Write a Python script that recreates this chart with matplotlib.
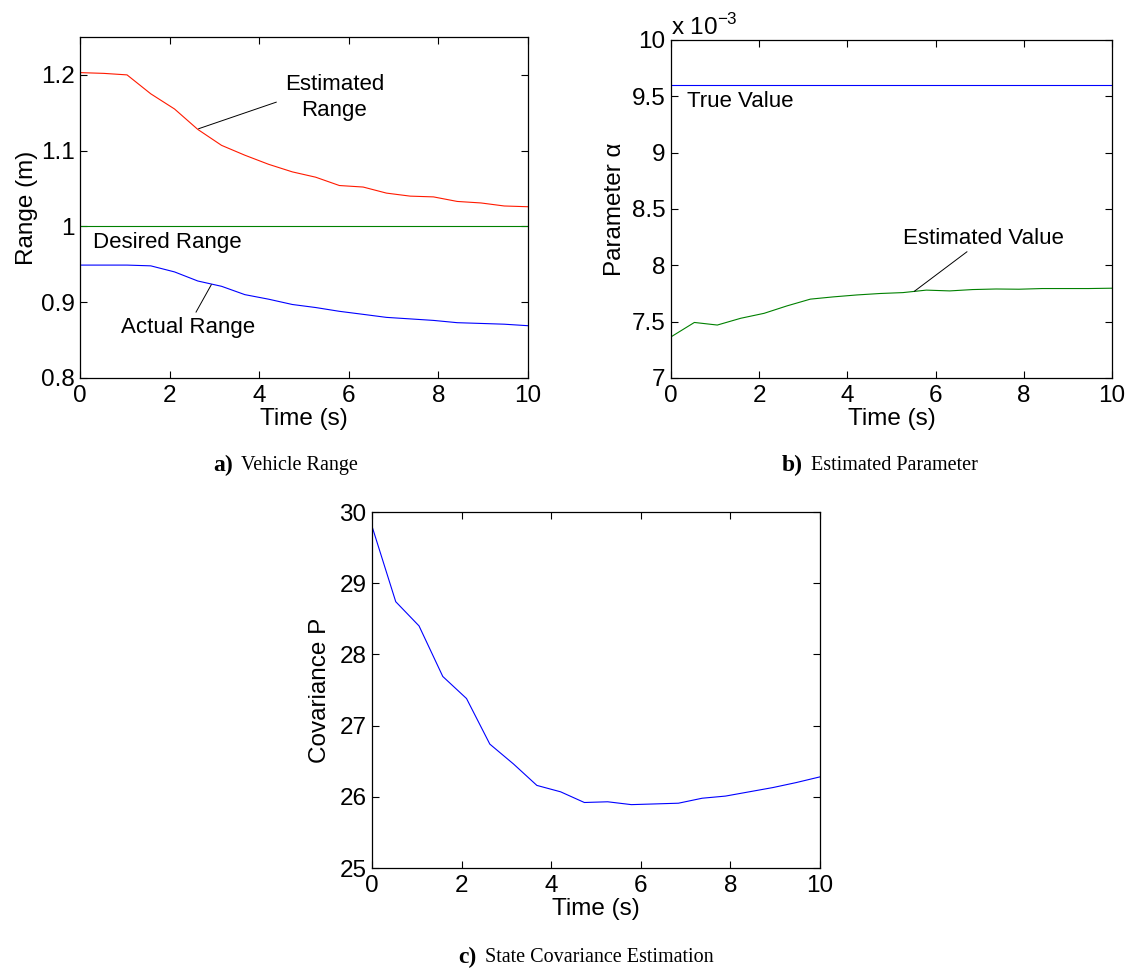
import matplotlib
matplotlib.use("Agg")
import matplotlib.pyplot as plt
from matplotlib.ticker import FuncFormatter

# ---------------- data ----------------
time_s = [0, 0.53, 1.05, 1.58, 2.11, 2.63, 3.16, 3.68, 4.21, 4.74,
          5.26, 5.79, 6.32, 6.84, 7.37, 7.89, 8.42, 8.95, 9.47, 10]

estimated_range = [1.203, 1.202, 1.200, 1.175, 1.155, 1.128, 1.107, 1.094, 1.082, 1.072,
                   1.065, 1.054, 1.052, 1.044, 1.040, 1.039, 1.033, 1.031, 1.027, 1.026]
actual_range = [0.949, 0.949, 0.949, 0.948, 0.940, 0.928, 0.921, 0.910, 0.904, 0.897,
                0.893, 0.888, 0.884, 0.880, 0.878, 0.876, 0.873, 0.872, 0.871, 0.869]
desired_range = 1.0

true_alpha = 9.6e-3
estimated_alpha = [7.365e-3, 7.493e-3, 7.470e-3, 7.530e-3, 7.574e-3, 7.640e-3, 7.700e-3,
                   7.720e-3, 7.737e-3, 7.750e-3, 7.758e-3, 7.780e-3, 7.773e-3, 7.785e-3,
                   7.790e-3, 7.788e-3, 7.794e-3, 7.794e-3, 7.794e-3, 7.797e-3]

covariance_p = [29.80, 28.74, 28.40, 27.69, 27.38, 26.74, 26.46, 26.16, 26.07, 25.92,
                25.93, 25.89, 25.90, 25.91, 25.98, 26.01, 26.07, 26.13, 26.20, 26.28]

x_ticks = [0, 2, 4, 6, 8, 10]
range_ticks = [0.8, 0.9, 1.0, 1.1, 1.2]
alpha_ticks = [7e-3, 7.5e-3, 8e-3, 8.5e-3, 9e-3, 9.5e-3, 10e-3]
cov_ticks = [25, 26, 27, 28, 29, 30]

captions = [("a)", "Vehicle Range"), ("b)", "Estimated Parameter"),
            ("c)", "State Covariance Estimation")]

# ---------------- style ----------------
SANS = ["Liberation Sans", "DejaVu Sans"]
SERIF = ["Liberation Serif", "DejaVu Serif"]
plt.rcParams["font.family"] = SANS
plt.rcParams["mathtext.fontset"] = "custom"
plt.rcParams["mathtext.rm"] = "Liberation Sans"
FS = 17.5
AFS = 16
W, H = 1130, 971

fig = plt.figure(figsize=(W / 100, H / 100), dpi=100)


def box(px_l, px_r, px_t, px_b):
    return [px_l / W, 1 - px_b / H, (px_r - px_l) / W, (px_b - px_t) / H]


def style(ax):
    ax.tick_params(direction="in", top=True, right=True, length=5, width=0.8,
                   labelsize=FS)
    ax.tick_params(axis="x", pad=5)
    ax.tick_params(axis="y", pad=4)
    for s in ax.spines.values():
        s.set_linewidth(0.9)
    ax.set_xlim(0, 10)
    ax.set_xticks(x_ticks)
    ax.xaxis.set_major_formatter(FuncFormatter(lambda v, p: "%g" % v))
    ax.set_xlabel("Time (s)", fontsize=FS, labelpad=1)


RED = "#ff1a00"
GREEN = "#008000"
BLUE = "#0000ff"
LW = 0.8

# ---- a) ----
axa = fig.add_axes(box(80, 528, 37, 378))
style(axa)
axa.plot(time_s, estimated_range, color=RED, lw=LW)
axa.axhline(desired_range, color=GREEN, lw=LW)
axa.plot(time_s, actual_range, color=BLUE, lw=LW)
axa.set_ylim(0.8, 1.25)
axa.set_yticks(range_ticks)
axa.yaxis.set_major_formatter(FuncFormatter(lambda v, p: "%g" % round(v, 3)))
axa.set_ylabel("Range (m)", fontsize=FS, labelpad=2)
axa.text(5.68, 1.17, "Estimated\nRange", ha="center", va="center", fontsize=AFS,
         linespacing=1.3)
axa.plot([4.38, 2.65], [1.164, 1.129], color="black", lw=0.7)
axa.text(0.3, 0.979, "Desired Range", ha="left", va="center", fontsize=AFS)
axa.text(2.42, 0.866, "Actual Range", ha="center", va="center", fontsize=AFS)
axa.plot([2.93, 2.59], [0.923, 0.887], color="black", lw=0.7)

# ---- b) ----
axb = fig.add_axes(box(671, 1112, 40, 378))
style(axb)
axb.axhline(true_alpha, color=BLUE, lw=LW)
axb.plot(time_s, estimated_alpha, color=GREEN, lw=LW)
axb.set_ylim(7e-3, 10e-3)
axb.set_yticks(alpha_ticks)
axb.yaxis.set_major_formatter(FuncFormatter(lambda v, p: "%g" % round(v * 1e3, 3)))
axb.set_ylabel("Parameter α", fontsize=FS, labelpad=4)
axb.text(0.0, 1.0, r"x 10$^{-3}$", transform=axb.transAxes, ha="left", va="bottom",
         fontsize=FS)
axb.text(0.37, 9.45e-3, "True Value", ha="left", va="center", fontsize=AFS)
axb.text(7.09, 8.24e-3, "Estimated Value", ha="center", va="center", fontsize=AFS)
axb.plot([6.71, 5.52], [8.12e-3, 7.77e-3], color="black", lw=0.7)

# ---- c) ----
axc = fig.add_axes(box(372, 820, 512, 868))
style(axc)
axc.plot(time_s, covariance_p, color=BLUE, lw=LW)
axc.set_ylim(25, 30)
axc.set_yticks(cov_ticks)
axc.yaxis.set_major_formatter(FuncFormatter(lambda v, p: "%g" % v))
axc.set_ylabel("Covariance P", fontsize=FS, labelpad=6)

# ---- captions ----
cap_pos = [(286, 465), (880, 465), (586, 957)]
renderer = fig.canvas.get_renderer()
for (lab, txt), (cx, cy) in zip(captions, cap_pos):
    t1 = fig.text(0, 1 - cy / H, lab, ha="left", va="center", fontsize=17,
                  fontweight="bold", family=SERIF)
    t2 = fig.text(0, 1 - cy / H, txt, ha="left", va="center", fontsize=14.5,
                  family=SERIF)
    w1 = t1.get_window_extent(renderer).width
    w2 = t2.get_window_extent(renderer).width
    gap = 8
    start = cx - (w1 + gap + w2) / 2
    t1.set_x(start / W)
    t2.set_x((start + w1 + gap) / W)

fig.savefig("out.png", dpi=100)
